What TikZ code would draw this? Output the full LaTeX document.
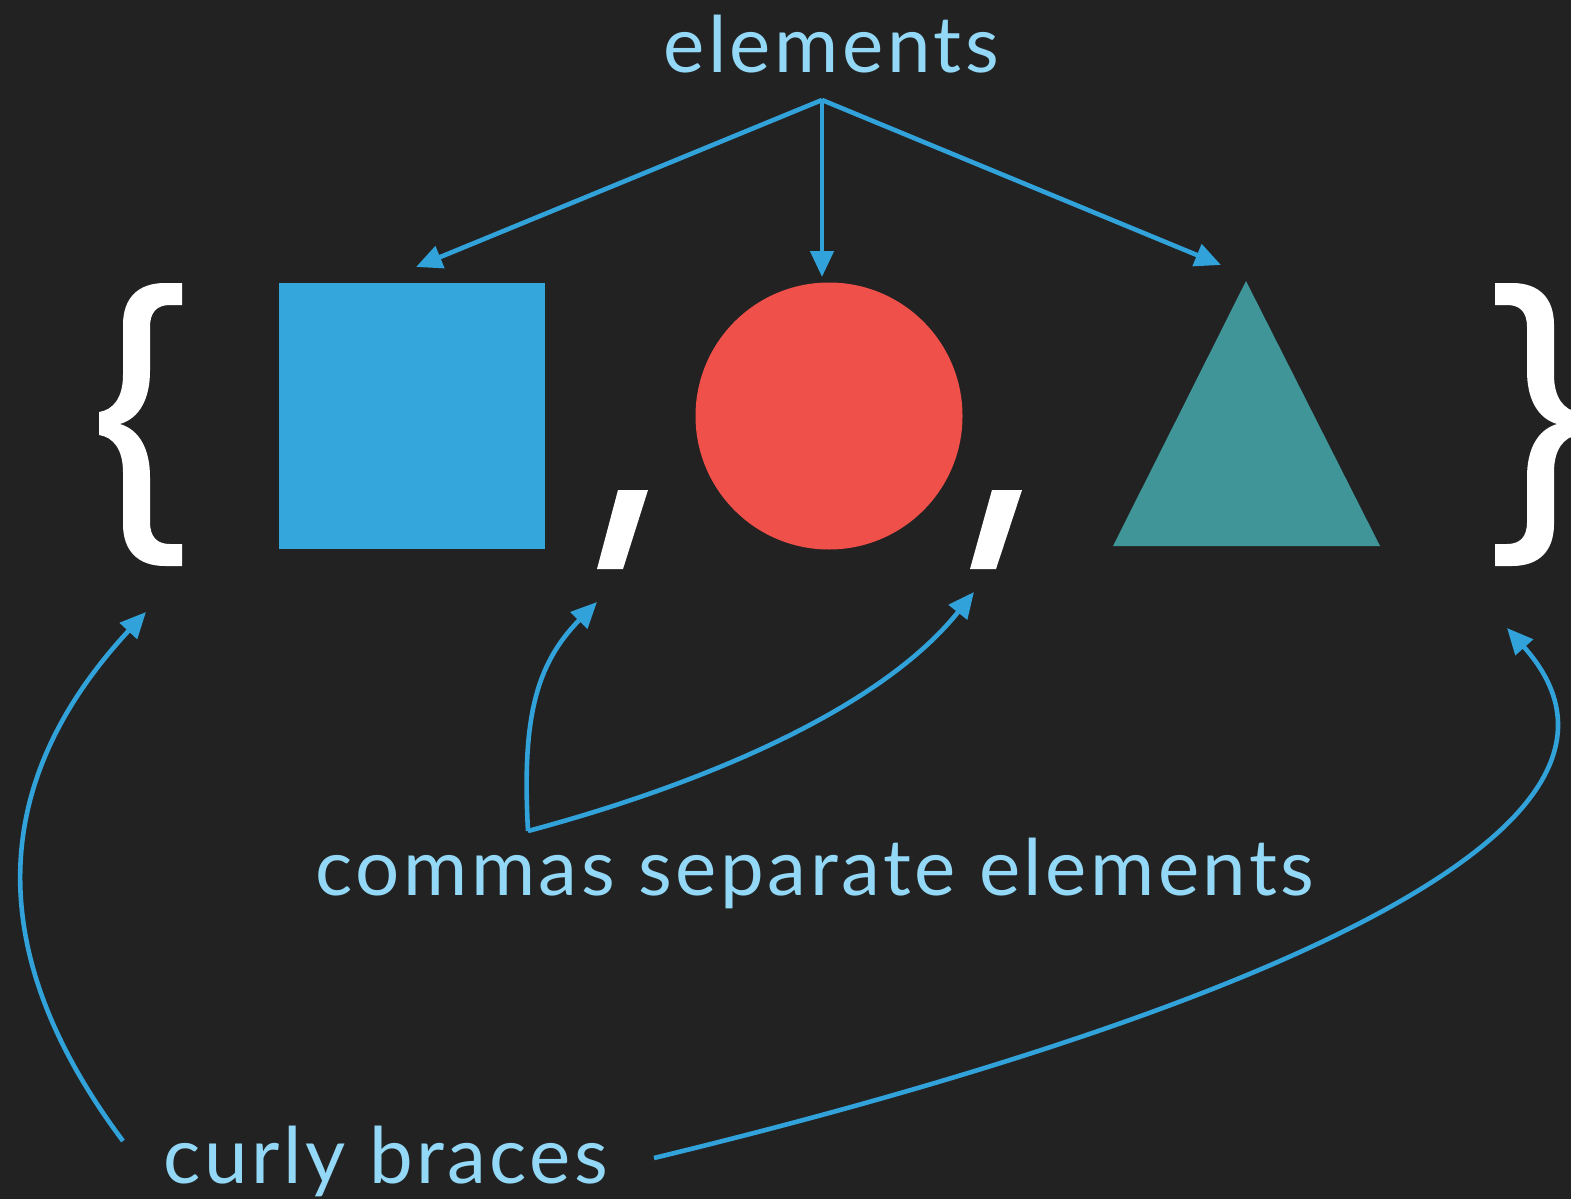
\documentclass[tikz,border=0pt]{standalone}
\usepackage{fontspec}
\setmainfont{Lato}[LetterSpace=4.5]
\usetikzlibrary{arrows.meta}
\definecolor{bgdark}{RGB}{34,34,34}
\definecolor{shapeblue}{RGB}{53,166,220}
\definecolor{shapered}{RGB}{239,80,73}
\definecolor{shapeteal}{RGB}{63,149,152}
\definecolor{arrowblue}{RGB}{50,163,218}
\definecolor{labelblue}{RGB}{147,216,246}
\tikzset{
  label text/.style={text=labelblue, font=\fontsize{78}{90}\selectfont, inner sep=0pt, anchor=base},
  pointer/.style={draw=arrowblue, line width=4.6pt, -{Triangle[length=26pt,width=23pt]}},
  mark white/.style={fill=white, draw=none},
}
\begin{document}
\begin{tikzpicture}[x=1pt,y=-1pt]
  % canvas
  \fill[bgdark] (0,0) rectangle (1571,1199);
  \useasboundingbox (0,0) rectangle (1571,1199);

  % the three elements
  \node[fill=shapeblue, minimum size=266pt, inner sep=0pt, draw=none] (square) at (412,416) {};
  \node[fill=shapered, circle, minimum size=267pt, inner sep=0pt, draw=none] (circ) at (829,416) {};
  \coordinate (triTop) at (1246,281);
  \fill[shapeteal] (triTop) -- (1380,546) -- (1113,546) -- cycle;

  % commas
  \fill[mark white] (597,569) -- (623,569) -- (648,490) -- (618,490) -- cycle;
  \fill[mark white] (970,569) -- (996,569) -- (1022,490) -- (992,490) -- cycle;

  % opening brace
  \fill[mark white] (182,283) -- (165,283) .. controls (138,283) and (123,298) .. (123,325)
    -- (123,375) .. controls (123,398) and (113,410) .. (99,412)
    -- (99,435) .. controls (113,437) and (123,449) .. (123,472)
    -- (123,524) .. controls (123,551) and (138,566) .. (165,566)
    -- (182,566) -- (182,544) -- (170,544) .. controls (157,544) and (150,537) .. (150,522)
    -- (150,477) .. controls (150,450) and (140,430) .. (120,424)
    .. controls (140,418) and (150,398) .. (150,371)
    -- (150,327) .. controls (150,312) and (157,305) .. (170,305) -- (182,305) -- cycle;
  % closing brace (mirror image)
  \begin{scope}[xshift=1677pt, xscale=-1]
  \fill[mark white] (182,283) -- (165,283) .. controls (138,283) and (123,298) .. (123,325)
    -- (123,375) .. controls (123,398) and (113,410) .. (99,412)
    -- (99,435) .. controls (113,437) and (123,449) .. (123,472)
    -- (123,524) .. controls (123,551) and (138,566) .. (165,566)
    -- (182,566) -- (182,544) -- (170,544) .. controls (157,544) and (150,537) .. (150,522)
    -- (150,477) .. controls (150,450) and (140,430) .. (120,424)
    .. controls (140,418) and (150,398) .. (150,371)
    -- (150,327) .. controls (150,312) and (157,305) .. (170,305) -- (182,305) -- cycle;
  \end{scope}

  % labels
  \node[label text] (lblElements) at (831,73) {elements};
  \node[label text] (lblCommas) at (815,895) {commas separate elements};
  \node[label text] (lblBraces) at (386,1183) {curly braces};

  % connector ends
  \coordinate (elemRoot) at (822,100);
  \coordinate (tipSquare) at (416,267);
  \coordinate (tipCircle) at (822,277);
  \coordinate (tipTriangle) at (1221,265);
  \coordinate (commaRoot) at (528,831);
  \coordinate (tipCommaA) at (597,602);
  \coordinate (tipCommaB) at (974,592);
  \coordinate (braceRootA) at (123,1141);
  \coordinate (braceRootB) at (654,1158);
  \coordinate (tipBraceA) at (146,612);
  \coordinate (tipBraceB) at (1507,628);

  % element pointers
  \draw[pointer] (elemRoot) -- (tipSquare);
  \draw[pointer] (elemRoot) -- (tipCircle);
  \draw[pointer] (elemRoot) -- (tipTriangle);

  % comma pointers
  \draw[pointer] (commaRoot) .. controls (522,720) and (535,665) .. (tipCommaA);
  \draw[pointer] (commaRoot) .. controls (700,785) and (880,710) .. (tipCommaB);

  % brace pointers
  \draw[pointer] (braceRootA) .. controls (-20,950) and (-10,780) .. (tipBraceA);
  \draw[pointer] (braceRootB) .. controls (1100,1050) and (1710,855) .. (tipBraceB);
\end{tikzpicture}
\end{document}
